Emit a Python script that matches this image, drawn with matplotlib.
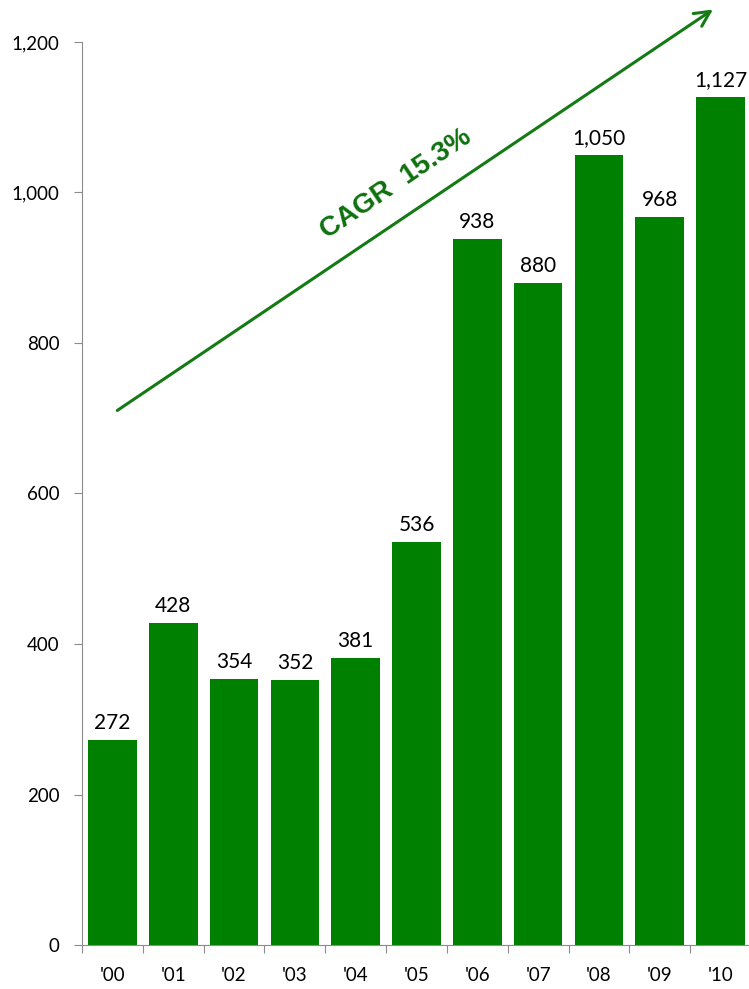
import numpy as np
import matplotlib.pyplot as plt

years = ["'00", "'01", "'02", "'03", "'04", "'05", "'06", "'07", "'08", "'09", "'10"]
values = [272, 428, 354, 352, 381, 536, 938, 880, 1050, 968, 1127]
y_ticks = [0, 200, 400, 600, 800, 1000, 1200]
cagr_text = 'CAGR  15.3%'

plt.rcParams['font.family'] = ['Lato', 'DejaVu Sans']

fig = plt.figure(figsize=(7.49, 9.89), dpi=100)
ax = fig.add_axes([82 / 749, 44 / 989, 669 / 749, 903 / 989])

x = np.arange(len(years))
ax.bar(x, values, width=0.8, color='#008000', zorder=2)

for xi, v in zip(x, values):
    ax.annotate(f'{v:,}', (xi, v), xytext=(0, 5), textcoords='offset points',
                ha='center', va='bottom', fontsize=15, color='black')

ax.set_xlim(-0.5, len(years) - 0.5)
ax.set_ylim(0, 1200)
ax.set_yticks(y_ticks)
ax.set_yticklabels([f'{t:,}' for t in y_ticks])

ax.set_xticks(np.arange(len(years) + 1) - 0.5)
ax.set_xticklabels([])
ax.set_xticks(x, minor=True)
ax.set_xticklabels(years, minor=True)

ax.tick_params(axis='x', which='major', length=6, color='#8c8c8c', direction='out')
ax.tick_params(axis='x', which='minor', length=0, pad=16, labelsize=13.5)
ax.tick_params(axis='y', length=6, color='#8c8c8c', direction='out', pad=10, labelsize=13.5)

for s in ['top', 'right']:
    ax.spines[s].set_visible(False)
for s in ['left', 'bottom']:
    ax.spines[s].set_color('#8c8c8c')

# CAGR arrow drawn over the whole figure
ax.annotate('', xy=(0.955, 0.992), xytext=(0.1535, 0.5834),
            xycoords='figure fraction', textcoords='figure fraction',
            arrowprops=dict(arrowstyle='->,head_length=1.1,head_width=0.55',
                            color='#147a14', lw=2.2))
fig.text(0.529, 0.814, cagr_text, rotation=34, ha='center', va='center',
         fontsize=20, fontweight='bold', color='#0d700d',
         family=['Liberation Sans', 'DejaVu Sans'], rotation_mode='anchor')

plt.savefig('out.png', dpi=100)
